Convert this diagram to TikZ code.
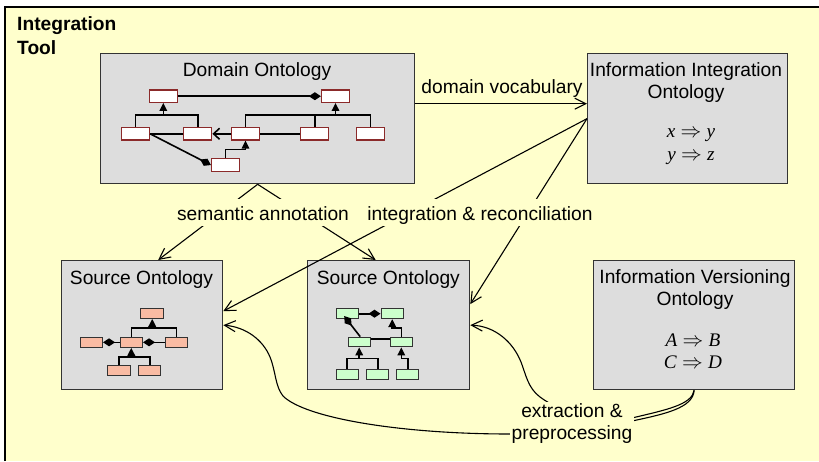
\documentclass[tikz,border=0pt]{standalone}
\usepackage{fontspec}
\setmainfont{Liberation Sans}
\newfontfamily\timesf{Liberation Serif}
\usetikzlibrary{arrows.meta}
\definecolor{bgyellow}{HTML}{FFFFCC}
\definecolor{boxgray}{HTML}{DDDDDD}
\definecolor{boxline}{HTML}{333333}
\definecolor{darkred}{HTML}{8B2A2A}
\definecolor{salmon}{HTML}{F9BBA3}
\definecolor{mint}{HTML}{CCFFCC}
\newcommand{\mathrule}[2]{{\timesf\itshape #1}\;$\Rightarrow$\;{\timesf\itshape #2}}
\begin{document}
\begin{tikzpicture}[x=1pt,y=-1pt,
  every node/.style={font=\fontsize{19.2}{22}\selectfont},
  bigbox/.style={draw=boxline, fill=boxgray, line width=1.3pt, anchor=north west, inner sep=0pt},
  dbox/.style={draw=darkred, fill=white, line width=1.2pt, minimum width=28pt, minimum height=12.3pt, inner sep=0pt},
  lbox/.style={draw=boxline, fill=salmon, line width=1pt, minimum width=22.5pt, minimum height=10pt, inner sep=0pt},
  mbox/.style={draw=boxline, fill=mint, line width=1pt, minimum width=22.3pt, minimum height=9.7pt, inner sep=0pt},
  mini/.style={line width=1.6pt},
  trihead/.style={mini, -{Triangle[length=8pt,width=7.5pt]}},
  diahead/.style={mini, -{Diamond[length=12pt,width=8pt]}},
  openhead/.style={mini, -{Straight Barb[length=6pt,width=11pt]}},
  conn/.style={line width=1.1pt, -{Straight Barb[length=11pt,width=11pt]}},
  lbl/.style={fill=bgyellow, inner xsep=2pt, inner ysep=0pt, text height=21pt, text depth=6pt, anchor=base},
  eplbl/.style={fill=bgyellow, inner sep=2pt, align=center},
  ttl/.style={anchor=base, inner sep=0pt}
]
\useasboundingbox (0,0) rectangle (819,461);
\fill[white] (0,0) rectangle (819,461);
\fill[bgyellow] (5,7) rectangle (819,461);
\draw[line width=1.5pt] (5,461) -- (5,7) -- (819,7);

\node[anchor=north west, inner sep=0pt, align=left, font=\bfseries\fontsize{19.2}{24}\selectfont] (tool) at (17,16) {Integration\\Tool};

% big boxes
\node[bigbox, minimum width=314pt, minimum height=130pt] (dom) at (100,53) {};
\node[bigbox, minimum width=200pt, minimum height=130pt] (iio) at (587,53) {};
\node[bigbox, minimum width=161pt, minimum height=129pt] (srcL) at (61,260) {};
\node[bigbox, minimum width=162pt, minimum height=129pt] (srcM) at (307,260) {};
\node[bigbox, minimum width=201pt, minimum height=129pt] (ivo) at (593,260) {};

% titles
\node[ttl] (domT) at (257,76.7) {Domain Ontology};
\node[ttl] (srcLT) at (141.5,284.3) {Source Ontology};
\node[ttl] (srcMT) at (388.3,284.3) {Source Ontology};
\node[align=center] (iioT) at (686,82.3) {Information Integration\\Ontology};
\node[align=center] (ivoT) at (695,289.6) {Information Versioning\\Ontology};
\node[ttl] (iioR1) at (691,137.3) {\mathrule{x}{y}};
\node[ttl] (iioR2) at (691,160) {\mathrule{y}{z}};
\node[ttl] (ivoR1) at (693,346.7) {\mathrule{A}{B}};
\node[ttl] (ivoR2) at (693,368.3) {\mathrule{C}{D}};

% domain mini graph
\node[dbox] (D1) at (163.3,96.2) {};
\node[dbox] (D2) at (335.5,96.2) {};
\node[dbox] (D3) at (135.5,133.8) {};
\node[dbox] (D4) at (197.8,133.8) {};
\node[dbox] (D5) at (245.5,133.8) {};
\node[dbox] (D6) at (314.7,133.8) {};
\node[dbox] (D7) at (370.5,133.8) {};
\node[dbox] (D8) at (225.5,165) {};
\draw[diahead] (D1.east) -- (D2.west);
\draw[mini] (D3.north) -- (D3.north |- 0,115) -- (D4.north |- 0,115) -- (D4.north);
\draw[trihead] (D1.south |- 0,115) -- (D1.south);
\draw[mini] (D5.north) -- (D5.north |- 0,115) -- (D7.north |- 0,115) -- (D7.north);
\draw[mini] (D6.north) -- (D6.north |- 0,115);
\draw[trihead] (D2.south |- 0,115) -- (D2.south);
\draw[mini] (D3.east) -- (D4.west);
\draw[openhead] (D5.west) -- (D4.east);
\draw[mini] (D5.east) -- (D6.west);
\draw[diahead] (D3.east) -- (D8.west);
\draw[trihead] (D8.north) |- (D5.south |- 0,149.3) -- (D5.south);

% left source mini graph
\node[lbox] (S1) at (152.2,313.3) {};
\node[lbox] (S2) at (91.3,342.3) {};
\node[lbox] (S3) at (131.3,342.3) {};
\node[lbox] (S4) at (176.5,342.3) {};
\node[lbox] (S5) at (119.2,370.8) {};
\node[lbox] (S6) at (149.7,370.8) {};
\draw[mini] (S3.north) -- (S3.north |- 0,327.7) -- (S4.north |- 0,327.7) -- (S4.north);
\draw[trihead] (S1.south |- 0,327.7) -- (S1.south);
\draw[diahead] (S3.west) -- (S2.east);
\draw[diahead] (S4.west) -- (S3.east);
\draw[mini] (S5.north) -- (S5.north |- 0,356.7) -- (S6.north |- 0,356.7) -- (S6.north);
\draw[trihead] (S3.south |- 0,356.7) -- (S3.south);

% middle source mini graph
\node[mbox] (M1) at (347.2,313.7) {};
\node[mbox] (M2) at (392.2,313.7) {};
\node[mbox] (M3) at (359.2,342) {};
\node[mbox] (M4) at (401.3,342) {};
\node[mbox] (M5) at (347.2,374.2) {};
\node[mbox] (M6) at (377.8,374.2) {};
\node[mbox] (M7) at (407.8,374.2) {};
\draw[diahead] (M1.east) -- (M2.west);
\draw[diahead] ([xshift=1pt]M3.north) -- ([xshift=-3pt,yshift=3pt]M1.south);
\draw[mini] ([yshift=3pt]M3.east) -- ([yshift=3pt]M4.west);
\draw[trihead] (M4.north) |- (M2.south |- 0,327.7) -- (M2.south);
\draw[mini] (M5.north) -- (M5.north |- 0,358.3) -- (M6.north |- 0,358.3) -- (M6.north);
\draw[trihead] (M3.south |- 0,358.3) -- (M3.south);
\draw[trihead] (M7.north) |- (M4.south |- 0,358.3) -- (M4.south);

% main connectors
\draw[conn] ([yshift=15pt]dom.east) -- ([yshift=15pt]iio.west);
\draw[conn] (dom.south) -- ([xshift=16pt]srcL.north);
\draw[conn] (dom.south) -- ([xshift=-13pt]srcM.north);
\draw[conn] (iio.west) -- ([yshift=14pt]srcL.east);
\draw[conn] (iio.west) -- ([yshift=21pt]srcM.east);
\draw[conn] (ivo.south) .. controls (693,408) and (665,414) .. (632,421)
  .. controls (600,430) and (560,434) .. (510,434)
  .. controls (400,434) and (305,418) .. (283,396)
  .. controls (275,386) and (276,372) .. (270,357)
  .. controls (263,340) and (246,327) .. (srcL.east);
\draw[conn] (ivo.south) .. controls (692,405) and (665,410) .. (632,418)
  .. controls (600,425) and (560,412) .. (540,397)
  .. controls (528,388) and (526,375) .. (521,362)
  .. controls (513,342) and (495,326) .. (srcM.east);

% labels
\node[ttl] (dv) at (502,93.3) {domain vocabulary};
\node[lbl] (sa) at (263,220) {semantic annotation};
\node[lbl] (ir) at (480,220) {integration \& reconciliation};
\node[eplbl] (ep) at (572,424) {extraction \&\\preprocessing};
\end{tikzpicture}
\end{document}
